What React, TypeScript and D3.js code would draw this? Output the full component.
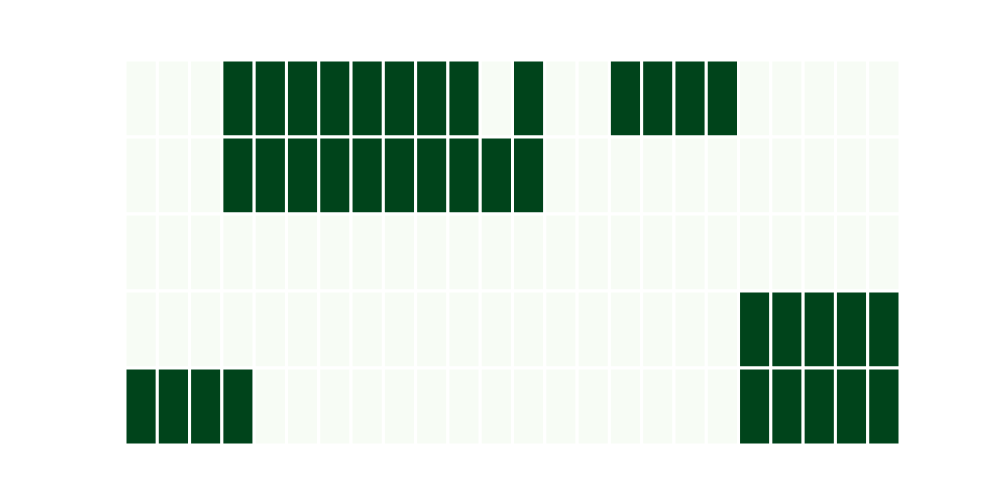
import React from "react";
import * as d3 from "d3";

const columns: number[] = d3.range(24);
const rows: string[] = ["r0", "r1", "r2", "r3", "r4"];
const row0: number[] = [0,0,0,1,1,1,1,1,1,1,1,0,1,0,0,1,1,1,1,0,0,0,0,0];
const row1: number[] = [0,0,0,1,1,1,1,1,1,1,1,1,1,0,0,0,0,0,0,0,0,0,0,0];
const row2: number[] = [0,0,0,0,0,0,0,0,0,0,0,0,0,0,0,0,0,0,0,0,0,0,0,0];
const row3: number[] = [0,0,0,0,0,0,0,0,0,0,0,0,0,0,0,0,0,0,0,1,1,1,1,1];
const row4: number[] = [1,1,1,1,0,0,0,0,0,0,0,0,0,0,0,0,0,0,0,1,1,1,1,1];
const matrix: number[][] = [row0, row1, row2, row3, row4];

export default function App() {
  const W = 1000, H = 500;
  const x = d3.scaleBand<number>().domain(columns).range([125, 900]);
  const y = d3.scaleBand<string>().domain(rows).range([60, 445]);
  const color = (v: number) => d3.interpolateGreens(v === 1 ? 1 : 0);
  return (
    <svg width={W} height={H} style={{ position: "absolute", left: 0, top: 0 }}>
      <rect width={W} height={H} fill="#fff" />
      {matrix.map((row, ri) =>
        row.map((v, ci) => (
          <rect
            key={`${ri}-${ci}`}
            x={x(ci)!}
            y={y(rows[ri])!}
            width={x.bandwidth()}
            height={y.bandwidth()}
            fill={color(v)}
            stroke="#fff"
            strokeWidth={3}
          />
        ))
      )}
    </svg>
  );
}
